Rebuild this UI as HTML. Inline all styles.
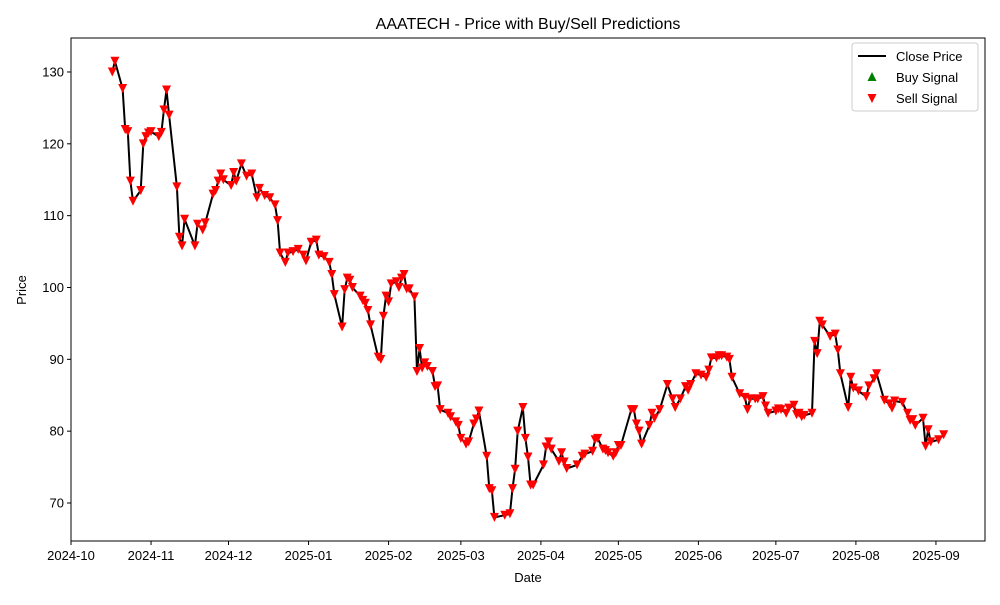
<!DOCTYPE html>
<html><head><meta charset="utf-8"><style>
body{margin:0;background:#fff;}
svg text{font-family:"Liberation Sans","DejaVu Sans",sans-serif;}
</style></head><body>
<svg id="chart" width="1000" height="600" xmlns="http://www.w3.org/2000/svg">
<rect width="1000" height="600" fill="#fff"/>
<text x="528" y="29" font-size="16" text-anchor="middle">AAATECH - Price with Buy/Sell Predictions</text>
<text x="578" y="0" transform="translate(-550,0)" font-size="13" text-anchor="middle" x-dummy="1"></text>
<text x="528" y="582" font-size="13" text-anchor="middle">Date</text>
<text transform="translate(26,290) rotate(-90)" font-size="13" text-anchor="middle">Price</text>
<g id="ticks"></g>
<g id="plot"></g>
<rect x="71" y="38" width="914" height="503" fill="none" stroke="#000" stroke-width="1"/>
<g>
<rect x="852" y="43" width="126" height="68" fill="#fff" stroke="#ccc" rx="3"/>
<line x1="858" y1="56" x2="886" y2="56" stroke="#000" stroke-width="2"/>
<text x="896" y="61" font-size="13">Close Price</text>
<polygon points="872,72 876.5,81 867.5,81" fill="green"/>
<text x="896" y="82" font-size="13">Buy Signal</text>
<polygon points="867.5,94 876.5,94 872,103" fill="red"/>
<text x="896" y="103" font-size="13">Sell Signal</text>
</g>
</svg>
<script>
const days=[16,17,20,21,22,23,24,27,28,29,30,31,34,35,36,37,38,41,42,43,44,48,49,51,52,55,56,57,58,59,62,63,64,66,68,70,72,73,75,77,79,80,81,83,84,86,88,90,91,93,95,96,98,100,101,102,105,106,107,108,109,112,113,114,115,116,119,120,121,122,123,124,126,127,128,129,130,131,133,134,135,136,137,138,140,141,142,143,146,147,149,150,151,153,154,156,157,158,161,162,163,164,168,170,171,172,173,175,176,177,178,179,183,184,185,186,189,190,191,192,196,198,199,202,203,204,206,207,208,210,211,212,213,217,218,219,220,221,224,225,226,228,231,233,234,236,238,239,240,242,244,246,247,248,250,251,252,254,255,256,259,261,262,263,265,266,268,269,270,273,274,275,277,278,280,281,282,283,284,287,288,289,290,291,294,296,297,298,301,302,303,305,308,309,311,312,315,317,318,319,322,324,325,326,327,330,331,332,333,336,338];
const closes=[130,131.5,127.7,122,121.7,114.8,112,113.5,120,121,121.5,121.7,121,121.6,124.7,127.5,124,114,107,105.8,109.5,105.8,108.8,108,109,113,113.5,114.8,115.8,115,114.2,116,114.8,117.2,115.5,115.8,112.5,113.8,112.8,112.5,111.5,109.3,104.8,103.5,104.8,105,105.3,104.5,103.7,106.3,106.6,104.5,104.3,103.5,101.8,99,94.5,99.7,101.3,101,100,98.8,98.2,97.8,96.8,94.8,90.3,90,96,98.8,98,100.5,100.8,100,101.3,101.8,99.8,99.8,98.7,88.3,91.5,88.8,89.5,89,88.3,86.2,86.3,83,82.5,82,81.3,80.8,79,78.2,78.5,81,81.7,82.8,76.5,72,71.7,68,68.3,68.5,72,74.7,80,83.3,79,76.4,72.5,72.5,75.3,77.8,78.5,77.5,75.8,77,75.7,74.8,75.3,76.5,76.8,77.2,78.8,79,77.5,77.3,77,76.5,77,78,78,83,83,81,80,78.2,80.8,82.5,81.8,83,86.5,84.5,83.3,84.5,86.2,85.7,86.5,88,87.8,87.5,88.5,90.2,90.2,90.5,90.5,90.3,90,87.5,85.2,84.7,83,84.5,84.5,84.5,84.8,83.5,82.5,82.8,83.1,83,82.5,83.2,83.6,82.3,82.5,82,82.2,82.5,92.5,90.8,95.3,94.8,93.2,93.5,91.3,88,83.3,87.5,86,85.6,84.8,86.3,87.3,88,84.3,83.8,83.2,84.2,84,82.5,81.5,81.6,80.8,81.8,77.9,80.2,78.5,78.8,79.5];
const yTicks=[70,80,90,100,110,120,130];
const xTickDays=[0,31,61,92,123,151,182,212,243,273,304,335];
const xTickLabels=["2024-10","2024-11","2024-12","2025-01","2025-02","2025-03","2025-04","2025-05","2025-06","2025-07","2025-08","2025-09"];
const X0=71,X1=985,Y0=38,Y1=541,DMIN=0,DMAX=354,VMIN=64.71,VMAX=134.73;
const sx=d=>X0+(d-DMIN)/(DMAX-DMIN)*(X1-X0);
const sy=v=>Y1-(v-VMIN)/(VMAX-VMIN)*(Y1-Y0);
const NS="http://www.w3.org/2000/svg";
const ticks=document.getElementById('ticks'),plot=document.getElementById('plot');
function mk(t,a,p){const e=document.createElementNS(NS,t);for(const k in a)e.setAttribute(k,a[k]);p.appendChild(e);return e;}
yTicks.forEach(v=>{const y=sy(v);
const l=mk('line',{x1:X0-4,x2:X0,y1:y,y2:y,stroke:'#000'},ticks);


const t=mk('text',{x:X0-7,y:y+4.5,'font-size':13,'text-anchor':'end'},ticks);t.textContent=v;

});
xTickDays.forEach((d,i)=>{const x=sx(d);
const l=mk('line',{x1:x,x2:x,y1:Y1,y2:Y1+4,stroke:'#000'},ticks);


const t=mk('text',{x:x,y:Y1+19,'font-size':13,'text-anchor':'middle'},ticks);t.textContent=xTickLabels[i];

});
const pts=days.map((d,i)=>sx(d).toFixed(1)+','+sy(closes[i]).toFixed(1)).join(' ');
const line=mk('polyline',{points:pts,fill:'none',stroke:'#000','stroke-width':2,'stroke-linejoin':'round'},plot);


days.forEach((d,i)=>{const x=sx(d),y=sy(closes[i]);
const m=mk('polygon',{points:`${x-4.5},${y-4.5} ${x+4.5},${y-4.5} ${x},${y+4.5}`,fill:'red'},plot);

});
</script>
</body></html>
